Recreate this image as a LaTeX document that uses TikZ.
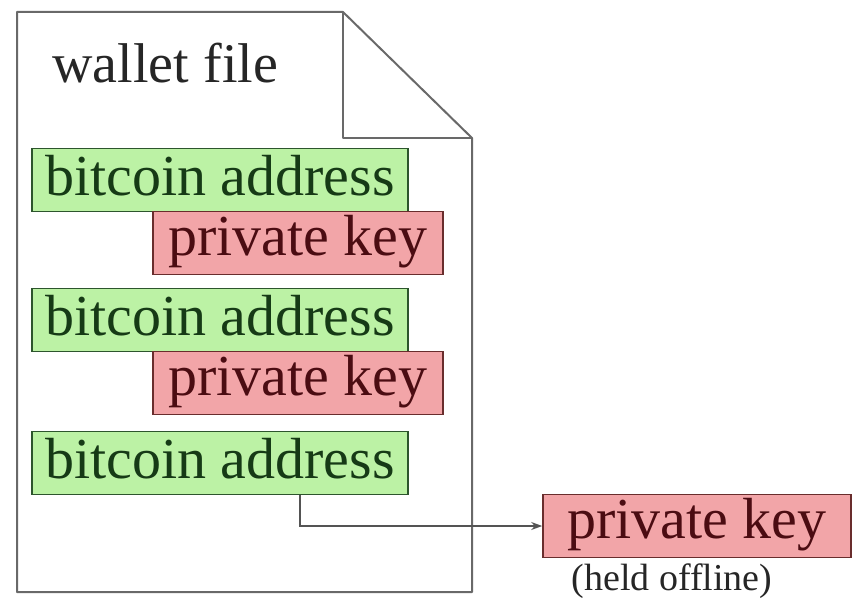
\documentclass[tikz,border=0pt]{standalone}
\usepackage{fontspec}
\setmainfont{Liberation Serif}
\usetikzlibrary{arrows.meta}
\definecolor{docline}{RGB}{105,105,105}
\definecolor{addrfill}{RGB}{188,242,165}
\definecolor{addrline}{RGB}{45,85,45}
\definecolor{addrtext}{RGB}{22,58,22}
\definecolor{keyfill}{RGB}{242,165,168}
\definecolor{keyline}{RGB}{105,45,45}
\definecolor{keytext}{RGB}{75,12,18}
\tikzset{
  boxbase/.style={rectangle, draw, line width=1.6pt, minimum height=63pt,
    inner sep=0pt, font=\fontsize{58}{62}\selectfont},
  addrbox/.style={boxbase, fill=addrfill, draw=addrline, text=addrtext,
    minimum width=376pt, text height=40pt, text depth=10pt},
  keybox/.style={boxbase, fill=keyfill, draw=keyline, text=keytext,
    minimum width=290pt, text height=38pt, text depth=14pt},
}
\begin{document}
\begin{tikzpicture}[x=1pt, y=-1pt]
\useasboundingbox (0,0) rectangle (856,599);
% the wallet document with its folded corner
\draw[docline, line width=2pt, line join=round, fill=white]
  (17,12) -- (343,12) -- (472,138) -- (472,592) -- (17,592) -- cycle;
\draw[docline, line width=2pt, line join=round] (343,12) -- (343,138) -- (472,138);
\node[anchor=base west, font=\fontsize{56}{60}\selectfont, text=black!85] (title) at (49,83) {wallet file};
% address / key pairs
\node[addrbox] (addr1) at (220,180) {bitcoin address};
\node[keybox]  (key1)  at (298,243) {private key};
\node[addrbox] (addr2) at (220,320) {bitcoin address};
\node[keybox]  (key2)  at (298,383) {private key};
\node[addrbox] (addr3) at (220,463) {bitcoin address};
% key kept outside the wallet
\node[keybox, minimum width=308pt] (offkey) at (697,526) {private key};
\node[anchor=base, font=\fontsize{38}{40}\selectfont, text=black!85] (note) at (672,590) {(held offline)};
\coordinate (tapx) at (300,0);
\draw[docline!80!black, line width=1.4pt, -{Stealth[length=11pt,width=8pt]}]
  (addr3.south -| tapx) |- (offkey.west);
\end{tikzpicture}
\end{document}
